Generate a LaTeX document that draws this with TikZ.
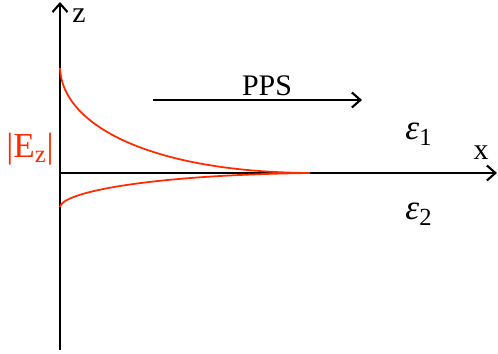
\documentclass[tikz,border=0pt]{standalone}
\usepackage{fontspec}
\setmainfont{Liberation Serif}
\usetikzlibrary{arrows.meta}
\definecolor{fieldred}{HTML}{FF2A00}
\tikzset{axis/.style={line width=1.2pt,-{Straight Barb[length=1.7mm,width=3mm,line width=1.2pt]}},
  field/.style={fieldred,line width=1pt},
  lbl/.style={inner sep=0pt,font=\fontsize{17}{17}\selectfont},
  big/.style={inner sep=0pt,font=\fontsize{20}{20}\selectfont}}
\begin{document}
\begin{tikzpicture}[x=0.02cm,y=-0.02cm]
\useasboundingbox (0,0) rectangle (498,354);
\coordinate (o) at (60,173);
\coordinate (zlo) at (60,350);
\coordinate (ztop) at (60,2);
\coordinate (xend) at (497,173);
\draw[axis] (zlo) -- (ztop);
\draw[axis] (o) -- (xend);
\node[lbl] (zlab) at (79,16) {z};
\node[lbl] (xlab) at (481,153) {x};
% field profile on both sides
\coordinate (top) at (60,68);
\coordinate (bot) at (60,207);
\coordinate (tail) at (310,173);
\draw[field] (top) .. controls (62,125) and (150,172) .. (tail);
\draw[field] (bot) .. controls (62,192) and (150,175) .. (tail);
\node[big,fieldred] (ez) at (30,149) {|E\textsubscript{z}|};
% propagation
\coordinate (ps) at (153,100);
\coordinate (pe) at (362,100);
\draw[axis] (ps) -- (pe);
\node[lbl] (pps) at (267,86) {PPS};
\node[big] (eps1) at (419,134) {\textit{ε}\textsubscript{1}};
\node[big] (eps2) at (419,214) {\textit{ε}\textsubscript{2}};
\end{tikzpicture}
\end{document}
